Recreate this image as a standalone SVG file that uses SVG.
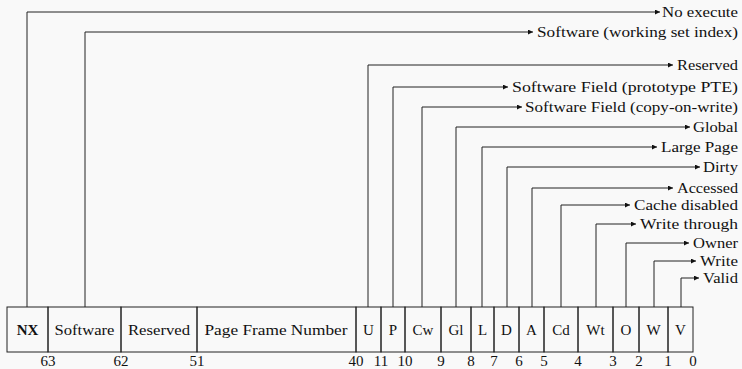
<svg xmlns="http://www.w3.org/2000/svg" width="742" height="369" viewBox="0 0 742 369">
<style>
.bg{fill:#f9f9f9}
.cell{fill:none;stroke:#222;stroke-width:1}
text{font-family:'Liberation Serif','DejaVu Serif','Times New Roman',Times,serif;font-size:15px;fill:#111}
.lbl{text-anchor:middle}
.b{font-weight:bold}
.num{text-anchor:middle}
.rt{text-anchor:end}
.con{fill:none;stroke:#222;stroke-width:1;marker-end:url(#ah)}
</style>
<defs>
<marker id="ah" markerUnits="userSpaceOnUse" markerWidth="6" markerHeight="6" refX="5" refY="2.5" orient="auto">
<path d="M0,0 L5,2.5 L0,5 z" fill="#111"/>
</marker>
</defs>
<rect class="bg" x="0" y="0" width="742" height="369"/>
<g id="cells" font-family="Liberation Serif, DejaVu Serif, serif">
<g id="c-nx"><rect class="cell" x="7" y="307" width="41" height="45"/><text class="lbl b" x="27.5" y="335">NX</text></g>
<g id="c-sw"><rect class="cell" x="48" y="307" width="73" height="45"/><text class="lbl" x="84.5" y="335" textLength="60" lengthAdjust="spacingAndGlyphs">Software</text></g>
<g id="c-res"><rect class="cell" x="121" y="307" width="76" height="45"/><text class="lbl" x="159" y="335" textLength="62" lengthAdjust="spacingAndGlyphs">Reserved</text></g>
<g id="c-pfn"><rect class="cell" x="197" y="307" width="159" height="45"/><text class="lbl" x="276" y="335" textLength="143" lengthAdjust="spacingAndGlyphs">Page Frame Number</text></g>
<g id="c-u"><rect class="cell" x="356" y="307" width="25" height="45"/><text class="lbl" x="368.5" y="335">U</text></g>
<g id="c-p"><rect class="cell" x="381" y="307" width="24" height="45"/><text class="lbl" x="393" y="335">P</text></g>
<g id="c-cw"><rect class="cell" x="405" y="307" width="36" height="45"/><text class="lbl" x="423" y="335">Cw</text></g>
<g id="c-gl"><rect class="cell" x="441" y="307" width="30" height="45"/><text class="lbl" x="456" y="335">Gl</text></g>
<g id="c-l"><rect class="cell" x="471" y="307" width="23" height="45"/><text class="lbl" x="482.5" y="335">L</text></g>
<g id="c-d"><rect class="cell" x="494" y="307" width="25" height="45"/><text class="lbl" x="506.5" y="335">D</text></g>
<g id="c-a"><rect class="cell" x="519" y="307" width="25" height="45"/><text class="lbl" x="531.5" y="335">A</text></g>
<g id="c-cd"><rect class="cell" x="544" y="307" width="34" height="45"/><text class="lbl" x="561" y="335">Cd</text></g>
<g id="c-wt"><rect class="cell" x="578" y="307" width="35" height="45"/><text class="lbl" x="595.5" y="335">Wt</text></g>
<g id="c-o"><rect class="cell" x="613" y="307" width="26" height="45"/><text class="lbl" x="626" y="335">O</text></g>
<g id="c-w"><rect class="cell" x="639" y="307" width="29" height="45"/><text class="lbl" x="653.5" y="335">W</text></g>
<g id="c-v"><rect class="cell" x="668" y="307" width="25" height="45"/><text class="lbl" x="680.5" y="335">V</text></g>
</g>
<g id="bits">
<text class="num" x="48" y="366">63</text>
<text class="num" x="121" y="366">62</text>
<text class="num" x="197" y="366">51</text>
<text class="num" x="356" y="366">40</text>
<text class="num" x="381" y="366">11</text>
<text class="num" x="405" y="366">10</text>
<text class="num" x="441" y="366">9</text>
<text class="num" x="471" y="366">8</text>
<text class="num" x="494" y="366">7</text>
<text class="num" x="519" y="366">6</text>
<text class="num" x="544" y="366">5</text>
<text class="num" x="578" y="366">4</text>
<text class="num" x="613" y="366">3</text>
<text class="num" x="639" y="366">2</text>
<text class="num" x="668" y="366">1</text>
<text class="num" x="693" y="366">0</text>
</g>
<g id="connectors">
<path class="con" d="M27,307 V12 H660"/>
<path class="con" d="M85,307 V32 H533"/>
<path class="con" d="M368,307 V65 H673"/>
<path class="con" d="M393,307 V87 H508"/>
<path class="con" d="M422,307 V107 H522"/>
<path class="con" d="M456,307 V127 H690"/>
<path class="con" d="M482,307 V147 H657"/>
<path class="con" d="M507,307 V167 H700"/>
<path class="con" d="M532,307 V188 H673"/>
<path class="con" d="M561,307 V205 H630"/>
<path class="con" d="M596,307 V224 H636"/>
<path class="con" d="M626,307 V243 H689"/>
<path class="con" d="M654,307 V261 H696"/>
<path class="con" d="M681,307 V278 H699"/>
</g>
<g id="labels">
<text class="rt" x="738" y="17" textLength="76" lengthAdjust="spacingAndGlyphs">No execute</text>
<text class="rt" x="738" y="37" textLength="201" lengthAdjust="spacingAndGlyphs">Software (working set index)</text>
<text class="rt" x="738" y="70" textLength="61" lengthAdjust="spacingAndGlyphs">Reserved</text>
<text class="rt" x="738" y="92" textLength="226" lengthAdjust="spacingAndGlyphs">Software Field (prototype PTE)</text>
<text class="rt" x="738" y="112" textLength="213" lengthAdjust="spacingAndGlyphs">Software Field (copy-on-write)</text>
<text class="rt" x="738" y="132" textLength="45" lengthAdjust="spacingAndGlyphs">Global</text>
<text class="rt" x="738" y="152" textLength="77" lengthAdjust="spacingAndGlyphs">Large Page</text>
<text class="rt" x="738" y="172" textLength="35" lengthAdjust="spacingAndGlyphs">Dirty</text>
<text class="rt" x="738" y="193" textLength="61" lengthAdjust="spacingAndGlyphs">Accessed</text>
<text class="rt" x="738" y="210" textLength="104" lengthAdjust="spacingAndGlyphs">Cache disabled</text>
<text class="rt" x="738" y="229" textLength="98" lengthAdjust="spacingAndGlyphs">Write through</text>
<text class="rt" x="738" y="248" textLength="45" lengthAdjust="spacingAndGlyphs">Owner</text>
<text class="rt" x="738" y="266" textLength="38" lengthAdjust="spacingAndGlyphs">Write</text>
<text class="rt" x="738" y="283" textLength="35" lengthAdjust="spacingAndGlyphs">Valid</text>
</g>
</svg>
